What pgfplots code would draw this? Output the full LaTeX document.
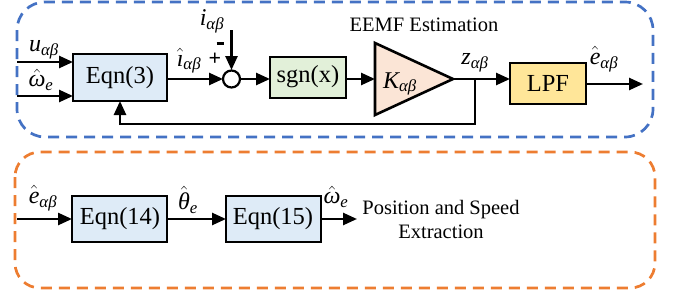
\documentclass[border=0pt]{standalone}
\usepackage{fontspec}
\setmainfont{Liberation Serif}
\usepackage{amsmath}
\usepackage{pgfplots}
\pgfplotsset{compat=1.18}
\usetikzlibrary{arrows.meta}
\definecolor{bluedash}{HTML}{4472C4}
\definecolor{orangedash}{HTML}{ED7D31}
\definecolor{eqnfill}{HTML}{DEEBF7}
\definecolor{sgnfill}{HTML}{E2F0D9}
\definecolor{kfill}{HTML}{FBE5D6}
\definecolor{lpffill}{HTML}{FFE699}
\newcommand{\lbl}{\fontsize{24}{28}\selectfont}
\newcommand{\bx}{\fontsize{24.5}{28}\selectfont}
\begin{document}
\begin{tikzpicture}[
  arr/.style={line width=2.5pt,-{Triangle[length=14pt,width=12pt]}},
  ln/.style={line width=2.5pt},
  blk/.style={line width=2.6pt}]
\begin{axis}[x=1pt,y=1pt,xmin=0,xmax=674,ymin=0,ymax=298,y dir=reverse,
  axis lines=none,ticks=none,clip=false]
\path (0,0) (674,298);
% ---------- frames
\draw[bluedash, line width=2.7pt, dash pattern=on 11pt off 7pt, rounded corners=28pt] (17,2) rectangle (653,137);
\draw[orangedash, line width=2.7pt, dash pattern=on 11pt off 7pt, rounded corners=25pt] (15,152) rectangle (655,288);
% ---------- top row
\draw[blk, fill=eqnfill] (73,54) rectangle (167,101);
\node[font=\bx] at (120,78) {Eqn(3)};
\draw[arr] (17,62) -- (73,62);
\draw[arr] (17,96) -- (73,96);
\node[font=\lbl] at (44,50) {$\textit{u}_{\textit{αβ}}$};
\node[font=\lbl] at (41,80) {$\hat{\textit{ω}}_{\textit{e}}$};
\draw[arr] (167,79) -- (223,79);
\node[font=\lbl] at (189,61) {$\hat{\textit{ı}}_{\textit{αβ}}$};
\node[font=\bfseries\fontsize{22}{22}\selectfont] at (215,59) {+};
\draw[line width=3.2pt] (216.5,43.5) -- (223.5,43.5);
\draw[line width=2.2pt] (231.5,79) circle[radius=8.5];
\draw[arr] (231.5,30) -- (231.5,70);
\node[font=\lbl] at (212,21) {$\textit{i}_{\textit{αβ}}$};
\draw[arr] (240,79) -- (270,79);
\draw[blk, fill=sgnfill] (270,57) rectangle (346,98);
\node[font=\bx] at (308,77) {sgn(x)};
\draw[arr] (346,79) -- (375,79);
\draw[blk, fill=kfill] (375,43) -- (453,79) -- (375,115) -- cycle;
\node[font=\lbl] at (400,84) {$\textit{K}_{\textit{αβ}}$};
\draw[arr] (453,79) -- (510,79);
\node[font=\lbl] at (475,63) {$\textit{z}_{\textit{αβ}}$};
\draw[ln] (475,79) -- (475,124) -- (120,124);
\draw[arr] (120,125.2) -- (120,101);
\draw[blk, fill=lpffill] (510,63) rectangle (586,104);
\node[font=\bx] at (548,83) {LPF};
\draw[arr] (586,84) -- (643,84);
\node[font=\lbl] at (604,59) {$\hat{\textit{e}}_{\textit{αβ}}$};
\node[font=\fontsize{20.5}{24}\selectfont] at (424,25) {EEMF Estimation};
% ---------- bottom row
\draw[arr] (17,219) -- (72,219);
\node[font=\lbl] at (43,198) {$\hat{\textit{e}}_{\textit{αβ}}$};
\draw[blk, fill=eqnfill] (72,196) rectangle (167,242);
\node[font=\bx] at (120,219) {Eqn(14)};
\draw[arr] (167,219) -- (226,219);
\node[font=\lbl] at (188,200) {$\hat{\textit{θ}}_{\textit{e}}$};
\draw[blk, fill=eqnfill] (226,196) rectangle (321,242);
\node[font=\bx] at (273,219) {Eqn(15)};
\draw[arr] (321,219) -- (357,219);
\node[font=\lbl] at (336,197) {$\hat{\textit{ω}}_{\textit{e}}$};
\node[font=\fontsize{20.5}{24}\selectfont, align=center] at (441,219) {Position and Speed\\Extraction};
\end{axis}
\end{tikzpicture}
\end{document}
